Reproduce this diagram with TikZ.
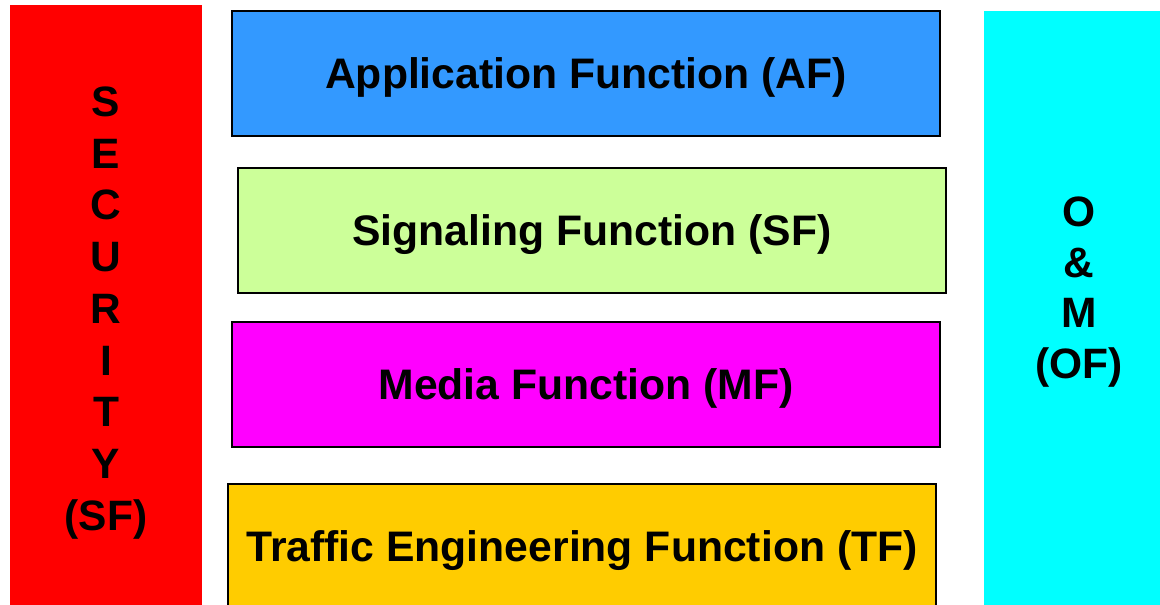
\documentclass[tikz,border=0pt]{standalone}
\usepackage{fontspec}
\setmainfont{Liberation Sans}
\definecolor{afblue}{HTML}{3399FF}
\definecolor{sfgreen}{HTML}{CCFF99}
\definecolor{mfmag}{HTML}{FF00FF}
\definecolor{tfyel}{HTML}{FFCC00}
\definecolor{secred}{HTML}{FF0000}
\definecolor{omcyan}{HTML}{00FFFF}
\tikzset{
  layer/.style={draw=black, line width=2.2pt, minimum width=708pt, minimum height=125pt,
    inner sep=0pt, text height=30.5pt, text depth=0pt, font=\fontsize{42.7}{50}\selectfont\bfseries},
  side/.style={inner sep=0pt, draw=none},
  sidetext/.style={anchor=base, inner sep=0pt, font=\fontsize{42.5}{50}\selectfont\bfseries}
}
\begin{document}
\begin{tikzpicture}[x=1pt,y=-1pt]
\useasboundingbox (0,0) rectangle (1160,605);
\fill[white] (0,0) rectangle (1160,605);
\node (sec) [side, fill=secred, minimum width=192pt, minimum height=605pt] at (106,307.5) {};
\node (om) [side, fill=omcyan, minimum width=180pt, minimum height=599pt] at (1074,310.5) {};
\node (sec1) [sidetext] at (106,116.5) {S};
\node (sec2) [sidetext] at (106,168.2) {E};
\node (sec3) [sidetext] at (106,219.9) {C};
\node (sec4) [sidetext] at (106,271.6) {U};
\node (sec5) [sidetext] at (106,323.3) {R};
\node (sec6) [sidetext] at (106,375.0) {I};
\node (sec7) [sidetext] at (106,426.7) {T};
\node (sec8) [sidetext] at (106,478.4) {Y};
\node (sec9) [sidetext] at (106,530.1) {(SF)};
\node (om1) [sidetext] at (1079,226.5) {O};
\node (om2) [sidetext] at (1079,277.0) {\&};
\node (om3) [sidetext] at (1079,327.5) {M};
\node (om4) [sidetext] at (1079,378.0) {(OF)};
\node (af) [layer, fill=afblue] at (586,73.5) {Application Function (AF)};
\node (sf) [layer, fill=sfgreen] at (592,230.5) {Signaling Function (SF)};
\node (mf) [layer, fill=mfmag] at (586,384.5) {Media Function (MF)};
\node (tf) [layer, fill=tfyel] at (582,546.5) {Traffic Engineering Function (TF)};
\end{tikzpicture}
\end{document}
